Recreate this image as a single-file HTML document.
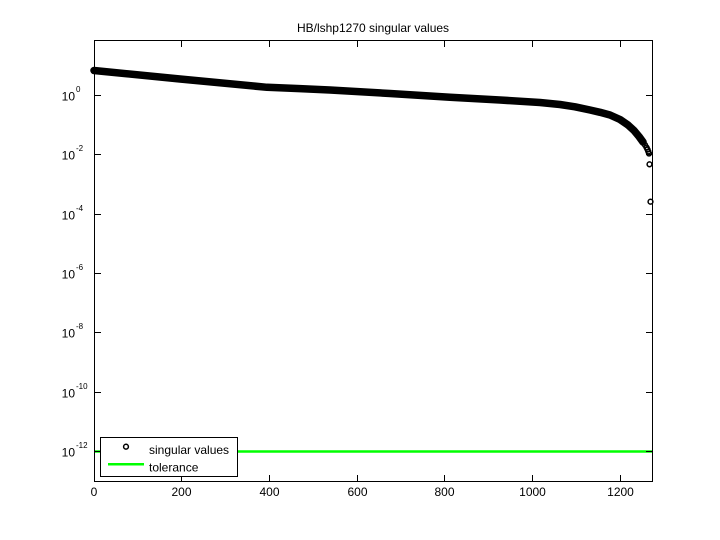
<!DOCTYPE html>
<html>
<head>
<meta charset="utf-8">
<style>
html,body{margin:0;padding:0;background:#fff;}
svg{display:block;}
text{font-family:"Liberation Sans",Helvetica,Arial,sans-serif;fill:#000;}
</style>
</head>
<body>
<svg width="720" height="540" viewBox="0 0 720 540" xmlns="http://www.w3.org/2000/svg">
<rect x="0" y="0" width="720" height="540" fill="#fff"/>

<!-- title -->
<text x="373" y="32" font-size="12" text-anchor="middle">HB/lshp1270 singular values</text>

<!-- tolerance line -->
<line x1="94.5" y1="451.5" x2="652.5" y2="451.5" stroke="#00ff00" stroke-width="2.5"/>

<!-- singular values band -->
<polyline fill="none" stroke="#000" stroke-width="7.5" stroke-linecap="round" stroke-linejoin="round"
 points="94,70.5 180,79 267,87.3 300,88.6 330,90 390,93.5 450,97.3 500,100 540,102.5 560,104.5 575,106.8 590,110 600,112.3 610,115 620,119.5 628,125 634,130.5 639,136.5 643,142"/>
<g fill="none" stroke="#000" stroke-width="1.5">
<circle cx="645" cy="145" r="2.4"/>
<circle cx="646.5" cy="147.5" r="2.4"/>
<circle cx="647.5" cy="149.5" r="2.4"/>
<circle cx="648.3" cy="151.5" r="2.4"/>
<circle cx="649" cy="153.5" r="2.4"/>
<circle cx="649.5" cy="164.3" r="2.4"/>
<circle cx="650.5" cy="201.7" r="2.4"/>
</g>

<!-- axes box -->
<rect x="94.5" y="40.5" width="558" height="441" fill="none" stroke="#000" stroke-width="1"/>

<!-- x ticks -->
<g stroke="#000" stroke-width="1">
<line x1="181.5" y1="481" x2="181.5" y2="475"/><line x1="181.5" y1="41" x2="181.5" y2="47"/>
<line x1="269.5" y1="481" x2="269.5" y2="475"/><line x1="269.5" y1="41" x2="269.5" y2="47"/>
<line x1="357.5" y1="481" x2="357.5" y2="475"/><line x1="357.5" y1="41" x2="357.5" y2="47"/>
<line x1="444.5" y1="481" x2="444.5" y2="475"/><line x1="444.5" y1="41" x2="444.5" y2="47"/>
<line x1="532.5" y1="481" x2="532.5" y2="475"/><line x1="532.5" y1="41" x2="532.5" y2="47"/>
<line x1="620.5" y1="481" x2="620.5" y2="475"/><line x1="620.5" y1="41" x2="620.5" y2="47"/>
</g>
<!-- y ticks -->
<g stroke="#000" stroke-width="1">
<line x1="95" y1="95.5" x2="101" y2="95.5"/><line x1="652" y1="95.5" x2="646" y2="95.5"/>
<line x1="95" y1="154.5" x2="101" y2="154.5"/><line x1="652" y1="154.5" x2="646" y2="154.5"/>
<line x1="95" y1="214.5" x2="101" y2="214.5"/><line x1="652" y1="214.5" x2="646" y2="214.5"/>
<line x1="95" y1="273.5" x2="101" y2="273.5"/><line x1="652" y1="273.5" x2="646" y2="273.5"/>
<line x1="95" y1="332.5" x2="101" y2="332.5"/><line x1="652" y1="332.5" x2="646" y2="332.5"/>
<line x1="95" y1="392.5" x2="101" y2="392.5"/><line x1="652" y1="392.5" x2="646" y2="392.5"/>
<line x1="95" y1="451.5" x2="101" y2="451.5"/><line x1="652" y1="451.5" x2="646" y2="451.5"/>
</g>

<!-- x tick labels -->
<g font-size="12" text-anchor="middle">
<text x="94" y="496">0</text>
<text x="181.5" y="496">200</text>
<text x="269.5" y="496">400</text>
<text x="357.5" y="496">600</text>
<text x="444.5" y="496">800</text>
<text x="532.5" y="496">1000</text>
<text x="620.5" y="496">1200</text>
</g>

<!-- y tick labels -->
<g font-size="12">
<text x="75" y="100.5" text-anchor="end">10</text><text x="76" y="92" font-size="8">0</text>
<text x="75" y="159.5" text-anchor="end">10</text><text x="76" y="151" font-size="8">-2</text>
<text x="75" y="219.5" text-anchor="end">10</text><text x="76" y="211" font-size="8">-4</text>
<text x="75" y="278.5" text-anchor="end">10</text><text x="76" y="270" font-size="8">-6</text>
<text x="75" y="337.5" text-anchor="end">10</text><text x="76" y="329" font-size="8">-8</text>
<text x="75" y="397.5" text-anchor="end">10</text><text x="76" y="389" font-size="8">-10</text>
<text x="75" y="456.5" text-anchor="end">10</text><text x="76" y="448" font-size="8">-12</text>
</g>

<!-- legend -->
<rect x="100.5" y="437.5" width="137" height="39" fill="#fff" stroke="#000" stroke-width="1"/>
<circle cx="126" cy="446.7" r="2.4" fill="none" stroke="#000" stroke-width="1.5"/>
<text x="149" y="454" font-size="12">singular values</text>
<line x1="108" y1="464.3" x2="144" y2="464.3" stroke="#00ff00" stroke-width="2.5"/>
<text x="149" y="471.5" font-size="12">tolerance</text>
</svg>
</body>
</html>
